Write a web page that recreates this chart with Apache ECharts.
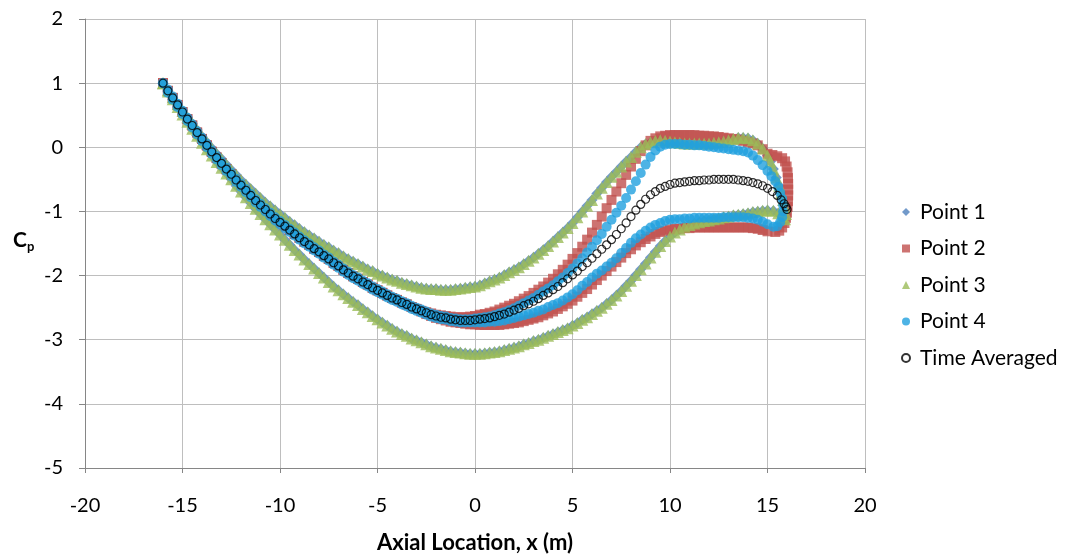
<!DOCTYPE html>
<html>
<head>
<meta charset="utf-8">
<script src="https://cdn.jsdelivr.net/npm/echarts@6/dist/echarts.min.js"></script>
<style>html,body{margin:0;padding:0;background:#fff}#c{width:1072px;height:559px}</style>
</head>
<body>
<div id="c"></div>
<script>
// Shared axial stations (m) for the main part of each loop
const xGrid = [
-16,-15.75,-15.5,-15.25, -15,-14.75,-14.5,-14.25, -14,-13.75,-13.5,-13.25, -13,-12.75,-12.5,-12.25,
-12,-11.75,-11.5,-11.25, -11,-10.75,-10.5,-10.25, -10,-9.75,-9.5,-9.25, -9,-8.75,-8.5,-8.25,
-8,-7.75,-7.5,-7.25, -7,-6.75,-6.5,-6.25, -6,-5.75,-5.5,-5.25, -5,-4.75,-4.5,-4.25,
-4,-3.75,-3.5,-3.25, -3,-2.75,-2.5,-2.25, -2,-1.75,-1.5,-1.25, -1,-0.75,-0.5,-0.25,
0,0.25,0.5,0.75, 1,1.25,1.5,1.75, 2,2.25,2.5,2.75, 3,3.25,3.5,3.75,
4,4.25,4.5,4.75, 5,5.25,5.5,5.75, 6,6.25,6.5,6.75, 7,7.25,7.5,7.75,
8,8.25,8.5,8.75, 9,9.25,9.5,9.75, 10,10.25,10.5,10.75, 11,11.25,11.5,11.75,
12,12.25,12.5,12.75, 13,13.25,13.5,13.75, 14,14.25,14.5,14.75, 15];

// Time averaged Cp
const meanY = [
1.00,0.88,0.77,0.66, 0.55,0.44,0.34,0.23, 0.13,0.03,-0.07,-0.16, -0.25,-0.34,-0.42,-0.51,
-0.59,-0.67,-0.75,-0.83, -0.90,-0.97,-1.04,-1.11, -1.17,-1.23,-1.29,-1.35, -1.41,-1.47,-1.52,-1.58,
-1.63,-1.69,-1.74,-1.80, -1.85,-1.91,-1.96,-2.01, -2.05,-2.10,-2.14,-2.19, -2.23,-2.27,-2.31,-2.35,
-2.38,-2.42,-2.45,-2.49, -2.52,-2.55,-2.58,-2.61, -2.63,-2.65,-2.66,-2.68, -2.69,-2.70,-2.70,-2.70,
-2.69,-2.68,-2.67,-2.66, -2.64,-2.62,-2.60,-2.57, -2.54,-2.51,-2.47,-2.44, -2.40,-2.36,-2.31,-2.27,
-2.22,-2.17,-2.11,-2.05, -1.99,-1.93,-1.86,-1.80, -1.73,-1.66,-1.59,-1.52, -1.44,-1.36,-1.27,-1.18,
-1.08,-0.98,-0.89,-0.81, -0.74,-0.69,-0.64,-0.61, -0.58,-0.56,-0.55,-0.54, -0.53,-0.52,-0.52,-0.51,
-0.51,-0.50,-0.50,-0.50, -0.50,-0.50,-0.51,-0.52, -0.53,-0.55,-0.57,-0.60, -0.64];
const meanCapX = [15.25,15.5,15.7,15.85,15.95,16.0];
const meanCapY = [-0.69,-0.75,-0.82,-0.88,-0.93,-0.97];

// Point 3 (upper and lower branches of the loop)
const p3Upper = [
1.00,0.89,0.78,0.67, 0.57,0.47,0.37,0.27, 0.17,0.08,-0.01,-0.10, -0.18,-0.27,-0.35,-0.43,
-0.51,-0.58,-0.65,-0.72, -0.79,-0.86,-0.92,-0.98, -1.04,-1.10,-1.16,-1.21, -1.27,-1.32,-1.37,-1.42,
-1.47,-1.52,-1.56,-1.61, -1.65,-1.70,-1.74,-1.78, -1.82,-1.86,-1.90,-1.93, -1.97,-2.00,-2.03,-2.06,
-2.08,-2.11,-2.13,-2.15, -2.17,-2.19,-2.20,-2.21, -2.21,-2.22,-2.22,-2.22, -2.21,-2.20,-2.19,-2.18,
-2.17,-2.15,-2.12,-2.09, -2.06,-2.03,-1.99,-1.95, -1.91,-1.87,-1.82,-1.77, -1.72,-1.66,-1.60,-1.54,
-1.47,-1.40,-1.33,-1.26, -1.18,-1.09,-1.00,-0.91, -0.82,-0.72,-0.63,-0.54, -0.46,-0.38,-0.30,-0.22,
-0.15,-0.07,0.00,0.05, 0.08,0.10,0.11,0.10, 0.09,0.08,0.07,0.06, 0.06,0.06,0.06,0.06,
0.06,0.07,0.08,0.09, 0.11,0.13,0.15,0.15, 0.14,0.11,0.06,-0.02, -0.13];
const p3Lower = [
1.00,0.87,0.75,0.63, 0.51,0.40,0.29,0.18, 0.07,-0.03,-0.13,-0.23, -0.32,-0.41,-0.50,-0.60,
-0.69,-0.78,-0.87,-0.96, -1.04,-1.12,-1.20,-1.28, -1.36,-1.44,-1.52,-1.60, -1.67,-1.75,-1.82,-1.89,
-1.96,-2.03,-2.10,-2.17, -2.23,-2.29,-2.35,-2.41, -2.46,-2.52,-2.57,-2.63, -2.68,-2.73,-2.78,-2.83,
-2.87,-2.91,-2.94,-2.98, -3.01,-3.04,-3.07,-3.10, -3.12,-3.14,-3.16,-3.18, -3.19,-3.20,-3.21,-3.22,
-3.22,-3.22,-3.21,-3.20, -3.19,-3.18,-3.16,-3.14, -3.12,-3.10,-3.07,-3.05, -3.02,-3.00,-2.97,-2.94,
-2.91,-2.88,-2.85,-2.82, -2.78,-2.74,-2.69,-2.65, -2.60,-2.55,-2.50,-2.44, -2.38,-2.31,-2.24,-2.16,
-2.08,-1.99,-1.90,-1.81, -1.72,-1.63,-1.54,-1.46, -1.39,-1.33,-1.28,-1.24, -1.21,-1.19,-1.17,-1.15,
-1.14,-1.12,-1.11,-1.09, -1.08,-1.06,-1.05,-1.04, -1.03,-1.01,-1.00,-0.99, -0.98];
const p3CapX = [15.15,15.3,15.45,15.6,15.7,15.8,15.9,15.95,15.9,15.75,15.55,15.3];
const p3CapY = [-0.22,-0.34,-0.47,-0.6,-0.71,-0.82,-0.93,-1.04,-1.12,-1.08,-1.03,-0.99];

// Point 1 reads the same as Point 3 within the picture's resolution
const p1Upper = p3Upper;
const p1Lower = p3Lower;
const p1CapX = p3CapX;
const p1CapY = p3CapY;

// Point 2
const p2Upper = [
1.00,0.88,0.77,0.66, 0.55,0.44,0.34,0.23, 0.13,0.03,-0.07,-0.16, -0.25,-0.34,-0.42,-0.51,
-0.59,-0.67,-0.75,-0.83, -0.90,-0.97,-1.04,-1.11, -1.17,-1.23,-1.29,-1.35, -1.41,-1.47,-1.52,-1.58,
-1.63,-1.69,-1.74,-1.80, -1.85,-1.91,-1.96,-2.01, -2.05,-2.10,-2.14,-2.19, -2.23,-2.27,-2.31,-2.35,
-2.38,-2.42,-2.45,-2.49, -2.52,-2.55,-2.57,-2.59, -2.61,-2.62,-2.63,-2.64, -2.65,-2.65,-2.65,-2.64,
-2.63,-2.61,-2.60,-2.58, -2.56,-2.53,-2.50,-2.47, -2.44,-2.40,-2.36,-2.32, -2.27,-2.22,-2.17,-2.11,
-2.05,-1.98,-1.91,-1.83, -1.74,-1.65,-1.55,-1.44, -1.33,-1.21,-1.08,-0.95, -0.82,-0.69,-0.56,-0.43,
-0.30,-0.18,-0.06,0.03, 0.10,0.14,0.17,0.18, 0.19,0.19,0.19,0.19, 0.19,0.19,0.18,0.18,
0.17,0.17,0.16,0.15, 0.14,0.13,0.12,0.10, 0.08,0.06,0.03,-0.03, -0.10];
const p2Lower = [
1.00,0.88,0.77,0.66, 0.55,0.44,0.34,0.23, 0.13,0.03,-0.07,-0.16, -0.25,-0.34,-0.42,-0.51,
-0.59,-0.67,-0.75,-0.83, -0.90,-0.97,-1.04,-1.11, -1.17,-1.23,-1.29,-1.35, -1.41,-1.47,-1.52,-1.58,
-1.63,-1.69,-1.74,-1.80, -1.85,-1.91,-1.96,-2.01, -2.05,-2.10,-2.14,-2.19, -2.23,-2.27,-2.31,-2.35,
-2.38,-2.42,-2.45,-2.49, -2.52,-2.56,-2.60,-2.63, -2.66,-2.68,-2.70,-2.72, -2.73,-2.74,-2.75,-2.76,
-2.76,-2.77,-2.77,-2.77, -2.77,-2.77,-2.76,-2.75, -2.74,-2.73,-2.71,-2.69, -2.67,-2.65,-2.62,-2.59,
-2.56,-2.52,-2.48,-2.44, -2.39,-2.33,-2.27,-2.21, -2.14,-2.07,-2.00,-1.93, -1.86,-1.79,-1.72,-1.65,
-1.59,-1.53,-1.48,-1.43, -1.39,-1.35,-1.32,-1.30, -1.28,-1.27,-1.27,-1.26, -1.26,-1.25,-1.25,-1.25,
-1.25,-1.25,-1.25,-1.25, -1.25,-1.25,-1.25,-1.25, -1.25,-1.26,-1.27,-1.29, -1.31];
const p2CapX = [15.25,15.5,15.75,15.9,15.98,16.03,16.05,16.06,16.06,16.06,16.05,16.03,16.0,15.95,15.87,15.75,15.6,15.4];
const p2CapY = [-0.12,-0.14,-0.17,-0.22,-0.3,-0.39,-0.48,-0.57,-0.66,-0.75,-0.84,-0.93,-1.02,-1.1,-1.18,-1.25,-1.3,-1.32];

// Point 4
const p4Upper = [
1.00,0.90,0.79,0.68, 0.57,0.46,0.36,0.25, 0.15,0.05,-0.05,-0.14, -0.23,-0.32,-0.40,-0.49,
-0.57,-0.65,-0.73,-0.81, -0.88,-0.95,-1.02,-1.09, -1.15,-1.21,-1.27,-1.33, -1.39,-1.45,-1.50,-1.56,
-1.61,-1.67,-1.72,-1.78, -1.83,-1.89,-1.94,-1.99, -2.03,-2.08,-2.12,-2.17, -2.21,-2.25,-2.29,-2.33,
-2.36,-2.40,-2.43,-2.47, -2.50,-2.53,-2.56,-2.59, -2.61,-2.63,-2.64,-2.66, -2.67,-2.68,-2.68,-2.68,
-2.67,-2.66,-2.65,-2.64, -2.62,-2.59,-2.57,-2.54, -2.51,-2.47,-2.43,-2.39, -2.35,-2.30,-2.25,-2.20,
-2.15,-2.09,-2.03,-1.96, -1.89,-1.81,-1.73,-1.64, -1.55,-1.45,-1.35,-1.24, -1.13,-1.02,-0.91,-0.79,
-0.66,-0.53,-0.40,-0.27, -0.15,-0.05,0.01,0.04, 0.05,0.05,0.05,0.04, 0.04,0.03,0.03,0.02,
0.01,0.00,-0.01,-0.02, -0.03,-0.04,-0.05,-0.06, -0.08,-0.13,-0.20,-0.28, -0.37];
const p4Lower = [
1.00,0.85,0.74,0.63, 0.52,0.41,0.31,0.20, 0.10,0.00,-0.10,-0.19, -0.28,-0.37,-0.45,-0.54,
-0.62,-0.70,-0.78,-0.86, -0.93,-1.00,-1.07,-1.14, -1.20,-1.26,-1.32,-1.38, -1.44,-1.50,-1.55,-1.61,
-1.66,-1.72,-1.77,-1.83, -1.88,-1.94,-1.99,-2.04, -2.08,-2.13,-2.17,-2.22, -2.26,-2.30,-2.34,-2.38,
-2.41,-2.45,-2.48,-2.52, -2.55,-2.58,-2.61,-2.64, -2.66,-2.68,-2.69,-2.71, -2.72,-2.73,-2.73,-2.73,
-2.73,-2.73,-2.73,-2.72, -2.72,-2.71,-2.70,-2.68, -2.66,-2.64,-2.62,-2.60, -2.58,-2.55,-2.53,-2.49,
-2.46,-2.43,-2.39,-2.34, -2.29,-2.23,-2.16,-2.10, -2.03,-1.97,-1.92,-1.86, -1.80,-1.73,-1.65,-1.57,
-1.49,-1.42,-1.36,-1.30, -1.25,-1.21,-1.18,-1.15, -1.13,-1.12,-1.12,-1.11, -1.11,-1.10,-1.10,-1.10,
-1.10,-1.10,-1.10,-1.09, -1.09,-1.09,-1.09,-1.09, -1.10,-1.11,-1.13,-1.16, -1.20];
const p4CapX = [15.2,15.4,15.55,15.65,15.75,15.8,15.8,15.75,15.65,15.5,15.3];
const p4CapY = [-0.45,-0.53,-0.62,-0.71,-0.8,-0.9,-1.0,-1.09,-1.17,-1.23,-1.24];

const seriesNames = ['Point 1','Point 2','Point 3','Point 4','Time Averaged'];
const xTicks = {min:-20, max:20, step:5};
const yTicks = {min:-5, max:2, step:1};

function loopData(upper, capX, capY, lower) {
  const d = xGrid.map((x, i) => [x, upper[i]]);
  capX.forEach((x, i) => d.push([x, capY[i]]));
  for (let i = xGrid.length - 1; i >= 0; i--) d.push([xGrid[i], lower[i]]);
  return d;
}
function openData(ys, capX, capY) {
  const d = xGrid.map((x, i) => [x, ys[i]]);
  capX.forEach((x, i) => d.push([x, capY[i]]));
  return d;
}

const FONT = 'Lato, "Open Sans", sans-serif';
const chart = echarts.init(document.getElementById('c'), null, {renderer: 'canvas'});
chart.setOption({
  animation: false,
  backgroundColor: '#fff',
  grid: {left: 85, top: 19, width: 780, height: 451},
  xAxis: {
    type: 'value', min: xTicks.min, max: xTicks.max, interval: xTicks.step,
    name: 'Axial Location, x (m)', nameLocation: 'middle', nameGap: 64,
    nameTextStyle: {fontFamily: FONT, fontSize: 22, fontWeight: 'bold', color: '#000'},
    axisLine: {onZero: false, lineStyle: {color: '#868686', width: 1}},
    axisTick: {show: true, length: 5, lineStyle: {color: '#868686'}},
    axisLabel: {fontFamily: FONT, fontSize: 20, color: '#000', margin: 28},
    splitLine: {show: true, lineStyle: {color: '#BEBEBE', width: 1}}
  },
  yAxis: {
    type: 'value', min: yTicks.min, max: yTicks.max, interval: yTicks.step,
    axisLine: {show: true, onZero: false, lineStyle: {color: '#868686', width: 1}},
    axisTick: {show: true, length: 6, lineStyle: {color: '#868686'}},
    axisLabel: {fontFamily: FONT, fontSize: 20, color: '#000', margin: 22},
    splitLine: {show: true, lineStyle: {color: '#BEBEBE', width: 1}}
  },
  graphic: [{
    type: 'text', left: 13, top: 229,
    style: {
      text: '{c|C}{p|p}',
      rich: {
        c: {fontFamily: FONT, fontSize: 21, fontWeight: 'bold', fill: '#000', lineHeight: 26},
        p: {fontFamily: FONT, fontSize: 13, fontWeight: 'bold', fill: '#000', lineHeight: 26, verticalAlign: 'bottom', padding: [11, 0, 0, 0]}
      }
    }
  }],
  legend: {
    orient: 'vertical', left: 901, top: 201, padding: 0,
    itemWidth: 8, itemHeight: 8, itemGap: 14.5,
    data: seriesNames,
    textStyle: {fontFamily: FONT, fontSize: 21, color: '#000', lineHeight: 22, padding: [0, 0, 0, 5]},
    selectedMode: false
  },
  series: [
    {name: seriesNames[0], type: 'scatter', symbol: 'diamond', symbolSize: 11, silent: true,
     itemStyle: {color: '#4F81BD'}, data: loopData(p1Upper, p1CapX, p1CapY, p1Lower)},
    {name: seriesNames[1], type: 'scatter', symbol: 'rect', symbolSize: 10, silent: true,
     itemStyle: {color: '#C0504D'}, data: loopData(p2Upper, p2CapX, p2CapY, p2Lower)},
    {name: seriesNames[2], type: 'scatter', symbol: 'triangle', symbolSize: 12, silent: true,
     itemStyle: {color: '#9BBB59'}, data: loopData(p3Upper, p3CapX, p3CapY, p3Lower)},
    {name: seriesNames[3], type: 'scatter', symbol: 'circle', symbolSize: 10, silent: true,
     itemStyle: {color: '#20A0DF'}, data: loopData(p4Upper, p4CapX, p4CapY, p4Lower)},
    {name: seriesNames[4], type: 'scatter', symbol: 'circle', symbolSize: 8, silent: true,
     itemStyle: {color: 'rgba(255,255,255,0)', borderColor: '#000', borderWidth: 1.2},
     data: openData(meanY, meanCapX, meanCapY)}
  ]
});
</script>
</body>
</html>
